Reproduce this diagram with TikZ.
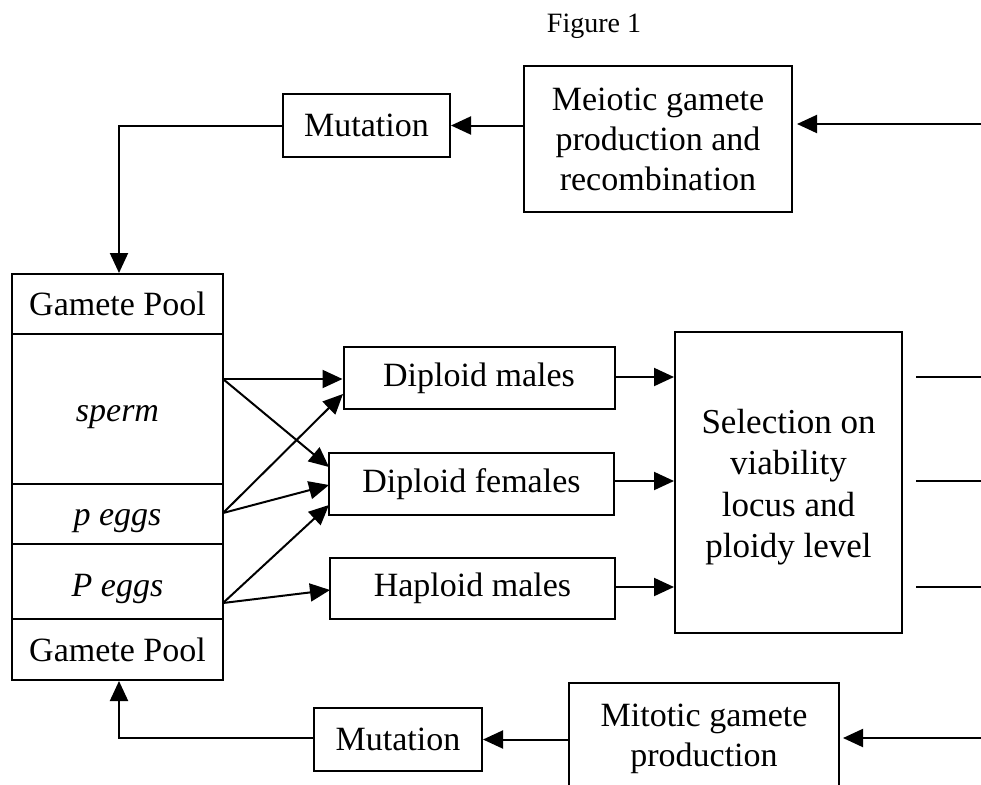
\documentclass[tikz,border=0pt]{standalone}
\usepackage{fontspec}
\setmainfont{Liberation Serif}
\usetikzlibrary{arrows.meta,calc}
\begin{document}
\begin{tikzpicture}[x=1pt,y=-1pt,
  box/.style={draw,line width=2pt,inner sep=0pt,align=center,font=\fontsize{34}{40}\selectfont},
  conn/.style={line width=2pt},
  arr/.style={line width=2pt,-{Triangle[length=20pt,width=18pt]}}]
\useasboundingbox (0,0) rectangle (981,784);
\clip (0,0) rectangle (981,784);
\node[font=\fontsize{28}{30}\selectfont] (title) at (594,26) {Figure 1};
% gamete pool column
\node[box,minimum width=211pt,minimum height=60pt] (gp1) at (117.5,304) {Gamete Pool};
\node[box,minimum width=211pt,minimum height=150pt,text height=32pt,text depth=6.4pt] (sperm) at (117.5,409) {\itshape sperm};
\node[box,minimum width=211pt,minimum height=60pt,text height=30pt,text depth=6.4pt] (peggs) at (117.5,514) {\itshape p eggs};
\node[box,minimum width=211pt,minimum height=75pt,text height=36pt,text depth=7pt] (Peggs) at (117.5,581.5) {\itshape P eggs};
\node[box,minimum width=211pt,minimum height=61pt] (gp2) at (117.5,649.5) {Gamete Pool};
% top row
\node[box,minimum width=167pt,minimum height=63pt] (mut1) at (366.5,125.5) {Mutation};
\node[box,minimum width=268pt,minimum height=146pt] (meio) at (658,139) {Meiotic gamete\\production and\\recombination};
% bottom row
\node[box,minimum width=168pt,minimum height=63pt] (mut2) at (398,739.5) {Mutation};
\node[box,minimum width=270pt,minimum height=112pt] (mito) at (704,739) {Mitotic gamete\\production};
% middle
\node[box,minimum width=271pt,minimum height=62pt] (dm) at (479,378) {Diploid males};
\node[box,minimum width=285pt,minimum height=62pt] (df) at (471.5,484) {Diploid females};
\node[box,minimum width=285pt,minimum height=61pt] (hm) at (472.5,588.5) {Haploid males};
\node[box,minimum width=227pt,minimum height=301pt] (sel) at (788.5,482.5) {};
\node[align=center,inner sep=0pt,font=\fontsize{35}{41.5}\selectfont] (selText) at (788.5,487) {Selection on\\viability\\locus and\\ploidy level};
% coordinates
\coordinate (inTop) at (981,124);
\coordinate (inBot) at (981,738);
\coordinate (cTop) at (119,125.5);
\coordinate (cBot) at (119,738);
\coordinate (s1) at (223,379);
\coordinate (p1) at (223,513);
\coordinate (P1) at (223,603);
\coordinate (dmIn) at (343,394);
\coordinate (dfIn1) at (329,467);
\coordinate (dfIn2) at (329,485);
\coordinate (dfIn3) at (329,505);
\coordinate (hmIn) at (330,590);
\coordinate (r1a) at (916,377); \coordinate (r1b) at (981,377);
\coordinate (r2a) at (916,481); \coordinate (r2b) at (981,481);
\coordinate (r3a) at (916,587); \coordinate (r3b) at (981,587);
% top loop
\draw[arr,shorten >=4pt] (inTop) -- (inTop -| meio.east);
\draw[arr] (meio.west |- mut1.east) -- (mut1.east);
\draw[arr] (mut1.west) -- (cTop) -- (gp1.north -| cTop);
% bottom loop
\draw[arr,shorten >=3pt] (inBot) -- (inBot -| mito.east);
\draw[arr] (mito.west |- mut2.east) -- (mut2.east);
\draw[arr] (mut2.west |- cBot) -- (cBot) -- (gp2.south -| cBot);
% gametes to offspring
\draw[arr] (s1) -- (s1 -| dm.west);
\draw[arr] (s1) -- (dfIn1);
\draw[arr] (p1) -- (dmIn);
\draw[arr] (p1) -- (dfIn2);
\draw[arr] (P1) -- (dfIn3);
\draw[arr] (P1) -- (hmIn);
% to selection
\draw[arr] (dm.east |- 0,377) -- (sel.west |- 0,377);
\draw[arr] (df.east |- 0,481) -- (sel.west |- 0,481);
\draw[arr] (hm.east |- 0,587) -- (sel.west |- 0,587);
% outgoing
\draw[conn] (r1a) -- (r1b);
\draw[conn] (r2a) -- (r2b);
\draw[conn] (r3a) -- (r3b);
\end{tikzpicture}
\end{document}
